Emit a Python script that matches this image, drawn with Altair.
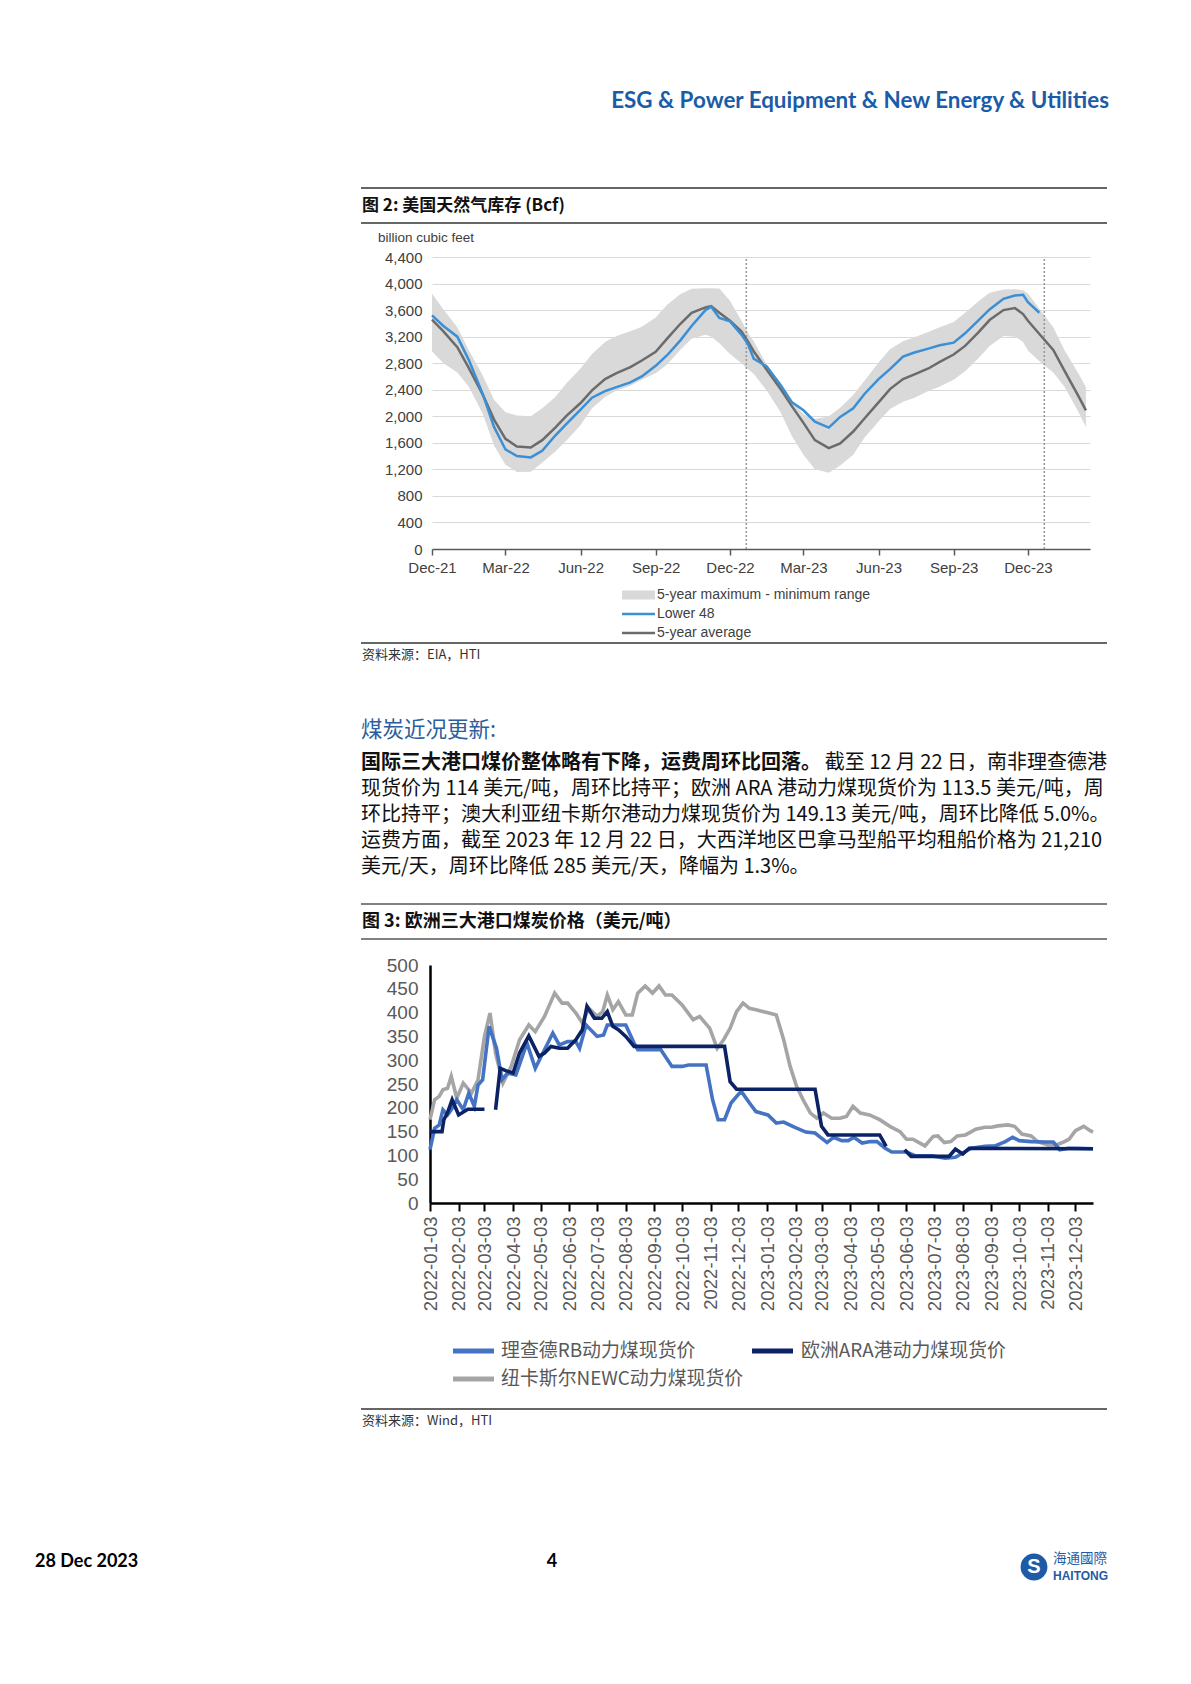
import altair as alt
import pandas as pd

# ---------------- page geometry ----------------
W, H = 1175, 1668
M = 8


def P(v):
    return v - M


DUMMY = pd.DataFrame({"k": [0]})

# ---------------- chart 2: US natural gas storage ----------------
GAS_DATES = [
    "2021-12-01", "2021-12-15",
    "2022-01-01", "2022-01-15", "2022-02-01", "2022-02-15", "2022-03-01", "2022-03-15",
    "2022-04-01", "2022-04-15", "2022-05-01", "2022-05-15", "2022-06-01", "2022-06-15",
    "2022-07-01", "2022-07-15", "2022-08-01", "2022-08-15", "2022-09-01", "2022-09-15",
    "2022-10-01", "2022-10-15", "2022-11-01", "2022-11-08", "2022-11-18", "2022-12-01",
    "2022-12-15", "2022-12-23", "2022-12-30",
    "2023-01-15", "2023-02-01", "2023-02-15", "2023-03-01", "2023-03-15", "2023-04-01",
    "2023-04-15", "2023-05-01", "2023-05-15", "2023-06-01", "2023-06-15", "2023-07-01",
    "2023-07-15", "2023-08-01", "2023-08-15", "2023-09-01", "2023-09-15", "2023-10-01",
    "2023-10-15", "2023-11-01", "2023-11-15", "2023-11-25", "2023-12-01", "2023-12-15",
    "2024-01-01", "2024-01-15", "2024-02-01", "2024-02-10",
]
GAS_MAX = [
    3850, 3610,
    3340, 3000, 2620, 2250, 2060, 2010, 2000, 2120, 2290, 2500, 2720, 2940, 3120, 3210,
    3280, 3350, 3490, 3680, 3840, 3920, 3930, 3930, 3925, 3740, 3440, 3260, 3130,
    2780, 2470, 2220, 2030, 1960, 2000, 2130, 2320, 2540, 2810, 3010, 3130, 3190, 3270,
    3340, 3420, 3560, 3730, 3860, 3910, 3915, 3900, 3850, 3620,
    3340, 2990, 2640, 2440,
]
GAS_MIN = [
    2980, 2800,
    2660, 2450, 2040, 1560, 1270, 1160, 1165, 1300, 1470, 1640, 1870, 2120, 2290, 2390,
    2460, 2550, 2650, 2780, 3000, 3170, 3230, 3200, 3100, 2940, 2800, 2710, 2640,
    2390, 2060, 1700, 1420, 1200, 1150, 1260, 1420, 1680, 1920, 2110, 2220, 2280, 2380,
    2450, 2550, 2680, 2870, 3060, 3210, 3200, 3120, 2990, 2830,
    2660, 2440, 2060, 1840,
]
GAS_AVG5 = [
    3456, 3280,
    3040, 2730, 2330, 1950, 1660, 1545, 1530, 1640, 1830, 2010, 2200, 2390, 2560, 2650,
    2740, 2840, 2970, 3170, 3390, 3560, 3640, 3660, 3560, 3440, 3280, 3130, 2980,
    2700, 2410, 2150, 1900, 1640, 1520, 1590, 1770, 1970, 2210, 2410, 2560, 2630, 2720,
    2820, 2930, 3060, 3260, 3450, 3600, 3630, 3540, 3440, 3240,
    3000, 2680, 2300, 2090,
]
GAS_LOWER48 = [
    3520, 3360,
    3200, 2850, 2340, 1840, 1500, 1400, 1380, 1480, 1710, 1890, 2100, 2280, 2380, 2440,
    2510, 2600, 2760, 2920, 3140, 3360, 3600, 3650, 3480, 3430, 3230, 3090, 2870,
    2750, 2470, 2210, 2090, 1920, 1830, 1990, 2120, 2340, 2560, 2710, 2900, 2960, 3020,
    3070, 3110, 3250, 3440, 3610, 3770, 3820, 3830, 3720, 3560,
    None, None, None, None,
]
GAS_WEEK_MARKERS = ["2022-12-21", "2023-12-21"]
GAS_YTICKS = [0, 400, 800, 1200, 1600, 2000, 2400, 2800, 3200, 3600, 4000, 4400]
GAS_XTICKS = [(2021, 12), (2022, 3), (2022, 6), (2022, 9), (2022, 12),
              (2023, 3), (2023, 6), (2023, 9), (2023, 12)]
GAS_LEGEND = ["5-year maximum - minimum range", "Lower 48", "5-year average"]

# ---------------- chart 3: coal prices ----------------
RB_NAME = "理查德RB动力煤现货价"
ARA_NAME = "欧洲ARA港动力煤现货价"
NEWC_NAME = "纽卡斯尔NEWC动力煤现货价"
COAL_SERIES = [RB_NAME, ARA_NAME, NEWC_NAME]
COAL_COLORS = ["#4472C4", "#0B2265", "#A5A5A5"]

NEWC_DATES = [
    "2022-01-03", "2022-01-08", "2022-01-13", "2022-01-17", "2022-01-22", "2022-01-26",
    "2022-02-01", "2022-02-08", "2022-02-17", "2022-02-24", "2022-03-03", "2022-03-09",
    "2022-03-15", "2022-03-23", "2022-04-01", "2022-04-10", "2022-04-20", "2022-04-27",
    "2022-05-07", "2022-05-18", "2022-05-26", "2022-06-01", "2022-06-10", "2022-06-17",
    "2022-06-24", "2022-07-03", "2022-07-09", "2022-07-14", "2022-07-20", "2022-07-26",
    "2022-08-03", "2022-08-10", "2022-08-16", "2022-08-24", "2022-09-01", "2022-09-08",
    "2022-09-15", "2022-09-22", "2022-10-03", "2022-10-15", "2022-10-22", "2022-11-02",
    "2022-11-10", "2022-11-17", "2022-11-24", "2022-12-01", "2022-12-08", "2022-12-15",
    "2022-12-22", "2023-01-03", "2023-01-13", "2023-01-21", "2023-01-28", "2023-02-04",
    "2023-02-11", "2023-02-19", "2023-02-26", "2023-03-05", "2023-03-14", "2023-03-23",
    "2023-03-30", "2023-04-06", "2023-04-14", "2023-04-24", "2023-05-05", "2023-05-16",
    "2023-05-27", "2023-06-03", "2023-06-10", "2023-06-23", "2023-07-02", "2023-07-07",
    "2023-07-14", "2023-07-21", "2023-07-28", "2023-08-06", "2023-08-17", "2023-08-27",
    "2023-09-03", "2023-09-10", "2023-09-21", "2023-09-28", "2023-10-06", "2023-10-16",
    "2023-10-23", "2023-11-03", "2023-11-12", "2023-11-19", "2023-11-26", "2023-12-03",
    "2023-12-12", "2023-12-19", "2023-12-22",
]
NEWC_PRICE = [
    175, 217, 224, 238, 241, 266,
    220, 252, 231, 259, 350, 399,
    315, 252, 287, 343, 374, 360,
    392, 441, 420, 420, 399, 378,
    409, 392, 402, 437, 406, 423,
    395, 395, 441, 456, 441, 456,
    437, 437, 416, 385, 392, 367,
    325, 343, 367, 402, 420, 409,
    406, 400, 395, 343, 287, 245,
    217, 189, 178, 189, 178, 178,
    182, 203, 189, 185, 175, 161,
    150, 134, 134, 120, 140, 141,
    127, 129, 141, 143, 155, 159,
    159, 162, 164, 161, 145, 141,
    129, 122, 122, 127, 134, 152,
    161, 152, 149,
]

RB_DATES = [
    "2022-01-03", "2022-01-08", "2022-01-13", "2022-01-17", "2022-01-22", "2022-01-26",
    "2022-02-01", "2022-02-08", "2022-02-14", "2022-02-20", "2022-02-24", "2022-03-01",
    "2022-03-08", "2022-03-16", "2022-03-22", "2022-03-28", "2022-04-06", "2022-04-18",
    "2022-04-27", "2022-05-07", "2022-05-16", "2022-05-23", "2022-06-01", "2022-06-10",
    "2022-06-14", "2022-06-21", "2022-07-03", "2022-07-10", "2022-07-14", "2022-07-21",
    "2022-08-03", "2022-08-12", "2022-08-16", "2022-09-01", "2022-09-10", "2022-09-22",
    "2022-10-03", "2022-10-10", "2022-10-29", "2022-11-05", "2022-11-11", "2022-11-18",
    "2022-11-25", "2022-12-06", "2022-12-15", "2022-12-22", "2023-01-04", "2023-01-13",
    "2023-01-21", "2023-02-01", "2023-02-14", "2023-02-24", "2023-03-09", "2023-03-16",
    "2023-03-25", "2023-04-01", "2023-04-07", "2023-04-16", "2023-04-25", "2023-05-02",
    "2023-05-11", "2023-05-18", "2023-06-03", "2023-06-13", "2023-07-01", "2023-07-15",
    "2023-07-26", "2023-08-03", "2023-08-12", "2023-08-27", "2023-09-07", "2023-09-18",
    "2023-09-26", "2023-10-03", "2023-10-16", "2023-10-31", "2023-11-09", "2023-11-16",
    "2023-11-25", "2023-12-03", "2023-12-22",
]
RB_PRICE = [
    112, 157, 164, 196, 185, 196,
    217, 196, 231, 203, 248, 259,
    371, 325, 259, 273, 269, 336,
    283, 322, 357, 332, 339, 339,
    325, 374, 350, 353, 374, 374,
    374, 336, 322, 322, 322, 287,
    287, 290, 290, 217, 175, 175,
    210, 235, 210, 192, 185, 168,
    170, 160, 149, 147, 127, 138,
    131, 131, 138, 126, 129, 129,
    115, 107, 107, 99, 99, 94,
    96, 105, 115, 119, 120, 129,
    138, 131, 129, 128, 128, 112,
    115, 115, 114,
]

# None marks a break in the ARA series
ARA_DATES = [
    "2022-01-03", "2022-01-16", "2022-01-18", "2022-01-22", "2022-01-27", "2022-02-03",
    "2022-02-13", "2022-03-03", None,
    "2022-03-15", "2022-03-20", "2022-03-26", "2022-04-03", "2022-04-10", "2022-04-20",
    "2022-05-01", "2022-05-07", "2022-05-14", "2022-05-23", "2022-06-01", "2022-06-10",
    "2022-06-17", "2022-06-22", "2022-06-30", "2022-07-08", "2022-07-14", "2022-07-20",
    "2022-07-26", "2022-08-03", "2022-08-12", "2022-11-18", "2022-11-24", "2022-12-01",
    "2023-02-24", "2023-03-03", "2023-03-10", "2023-05-05", "2023-05-12", None,
    "2023-06-01", "2023-06-08", "2023-07-19", "2023-07-26", "2023-08-03", "2023-08-10",
    "2023-12-22",
]
ARA_PRICE = [
    150, 150, 175, 190, 217, 185,
    197, 197, None,
    196, 283, 278, 273, 315, 351,
    308, 315, 329, 325, 325, 343,
    364, 413, 388, 388, 402, 371,
    364, 350, 329, 329, 255, 239,
    239, 161, 143, 143, 119, None,
    112, 98, 98, 113, 103, 115,
    114,
]
COAL_YTICKS = list(range(0, 501, 50))

# ---------------- helpers ----------------
CJK = "Noto Sans CJK SC"
ARIAL = "Liberation Sans"
L, R = 361, 1107  # page text column


def DT(y, m, d):
    return alt.DateTime(year=y, month=m, date=d)


def ts(s):
    return s + "T00:00:00"


def text(s, x, y, size, color="#111111", font=CJK, weight="normal", align="left"):
    return alt.Chart(DUMMY).mark_text(
        text=s, font=font, fontSize=size, fontWeight=weight, color=color,
        align=align, baseline="middle",
    ).encode(x=alt.value(P(x)), y=alt.value(P(y)))


def hrule(x1, x2, y, color, width):
    return alt.Chart(DUMMY).mark_rule(color=color, strokeWidth=width).encode(
        x=alt.value(P(x1)), x2=alt.value(P(x2)), y=alt.value(P(y))
    )


# ---------------- chart 2 build ----------------
gas = pd.DataFrame({
    "date": [ts(s) for s in GAS_DATES],
    "hi": GAS_MAX, "lo": GAS_MIN, "avg": GAS_AVG5, "l48": GAS_LOWER48,
})
gas_marks = pd.DataFrame({"date": [ts(s) for s in GAS_WEEK_MARKERS]})

x2s = alt.Scale(domain=[DT(2021, 12, 1), DT(2024, 2, 15)], range=[P(432), P(1090)])
y2s = alt.Scale(domain=[0, 4400], range=[P(549), P(257)], nice=False, zero=False)
x2a = alt.Axis(
    orient="bottom", offset=P(549) - H, values=[DT(y, m, 1) for y, m in GAS_XTICKS],
    format="%b-%y", labelFont=ARIAL, labelFontSize=15, labelColor="#404040",
    domainColor="#595959", domainWidth=1.5, tickColor="#595959", tickWidth=1.5,
    tickSize=6, labelPadding=5, labelFlush=False, labelOverlap=False, grid=False, title=None,
)
y2a = alt.Axis(
    orient="left", offset=-P(432), values=GAS_YTICKS, format=",d",
    labelFont=ARIAL, labelFontSize=15, labelColor="#404040", domain=False, ticks=False,
    labelPadding=10, grid=True, gridColor="#d9d9d9", gridWidth=1, title=None,
)

band = alt.Chart(gas).mark_area(color="#d9d9d9").encode(
    x=alt.X("date:T", scale=x2s, axis=x2a),
    y=alt.Y("hi:Q", scale=y2s, axis=y2a),
    y2="lo:Q",
)
weeks = alt.Chart(gas_marks).mark_rule(color="#9a9a9a", strokeDash=[2, 2], strokeWidth=1.6).encode(
    x=alt.X("date:T", scale=x2s, axis=x2a),
    y=alt.YDatum(0, scale=y2s, axis=y2a),
    y2=alt.Y2Datum(4400),
)
avg_line = alt.Chart(gas).mark_line(color="#6b6b6b", strokeWidth=2.5).encode(
    x=alt.X("date:T", scale=x2s, axis=x2a),
    y=alt.Y("avg:Q", scale=y2s, axis=y2a),
)
l48_line = alt.Chart(gas).transform_filter("isValid(datum.l48)").mark_line(
    color="#3a8fd5", strokeWidth=2.5
).encode(
    x=alt.X("date:T", scale=x2s, axis=x2a),
    y=alt.Y("l48:Q", scale=y2s, axis=y2a),
)
chart2 = alt.layer(band, weeks, avg_line, l48_line)

# ---------------- chart 3 build ----------------
rows = []
for name, dates, vals in [
    (NEWC_NAME, NEWC_DATES, NEWC_PRICE),
    (RB_NAME, RB_DATES, RB_PRICE),
    (ARA_NAME, ARA_DATES, ARA_PRICE),
]:
    seg = 0
    for dt, v in zip(dates, vals):
        if v is None or dt is None:
            seg += 1
            continue
        rows.append({"date": ts(dt), "price": v, "series": name, "seg": f"{name}-{seg}"})
coal = pd.DataFrame(rows)

x3s = alt.Scale(domain=[DT(2022, 1, 3), DT(2023, 12, 22)], range=[P(430), P(1093)])
y3s = alt.Scale(domain=[0, 500], range=[P(1203), P(965)], nice=False, zero=False)
coal_ticks = [DT(2022 + (i // 12), i % 12 + 1, 3) for i in range(24)]
x3a = alt.Axis(
    orient="bottom", offset=P(1203) - H, values=coal_ticks, format="%Y-%m-%d",
    labelAngle=270, labelFont=ARIAL, labelFontSize=18.5, labelColor="#595959",
    domainColor="#000000", domainWidth=2.5, tickColor="#000000", tickWidth=2, tickSize=8,
    labelPadding=5, labelFlush=False, labelOverlap=False, grid=False, title=None,
)
y3a = alt.Axis(
    orient="left", offset=-P(430), values=COAL_YTICKS, labelFont=ARIAL, labelFontSize=19,
    labelColor="#595959", domainColor="#000000", domainWidth=2.5, ticks=False,
    labelPadding=12, grid=False, title=None,
)
coal_colors = alt.Scale(domain=COAL_SERIES, range=COAL_COLORS)
chart3 = alt.Chart(coal).mark_line(strokeWidth=3.6).encode(
    x=alt.X("date:T", scale=x3s, axis=x3a),
    y=alt.Y("price:Q", scale=y3s, axis=y3a),
    color=alt.Color("series:N", scale=coal_colors, legend=None),
    detail="seg:N",
)

# legend slots for figure 3: (symbol x1, symbol x2, text x, y)
coal_leg_pos = [(453, 494, 501, 1351), (752, 793, 801, 1351), (453, 494, 501, 1379)]
coal_legend = []
for name, col, (sx1, sx2, tx, ty) in zip(COAL_SERIES, COAL_COLORS, coal_leg_pos):
    coal_legend.append(hrule(sx1, sx2, ty, col, 5))
    coal_legend.append(text(name, tx, ty, 18.9, color="#595959"))

# legend for figure 2
gas_leg_style = [("#d9d9d9", 9), ("#3a8fd5", 2.5), ("#6b6b6b", 2.5)]
gas_legend = []
for lab, (col, wdt), ty in zip(GAS_LEGEND, gas_leg_style, [595, 614, 633]):
    gas_legend.append(hrule(622, 655, ty, col, wdt))
    gas_legend.append(text(lab, 657, ty, 14, color="#404040", font=ARIAL))

# ---------------- page furniture ----------------
BLUE_HEAD = "#1a5ca8"
BODY = 20
layers = [
    text("ESG & Power Equipment & New Energy & Utilities", 1109, 101, 22.4,
         color=BLUE_HEAD, font="Lato", weight="bold", align="right"),
    # figure 2 frame
    hrule(L, R, 188, "#333333", 1.3),
    text("图 2: 美国天然气库存 (Bcf)", 362, 206, 17, weight="bold"),
    hrule(L, R, 223, "#333333", 1.3),
    text("billion cubic feet", 378, 238, 13.5, color="#404040", font=ARIAL),
    chart2,
    *gas_legend,
    hrule(L, R, 643, "#333333", 1.3),
    text("资料来源：EIA，HTI", 362, 655, 13, color="#333333"),
    # section text
    text("煤炭近况更新:", L, 731, 21.5, color="#2c5d9c"),
    text("国际三大港口煤价整体略有下降，运费周环比回落。", L, 763, BODY, weight="bold"),
    text("截至 12 月 22 日，南非理查德港", R, 763, BODY, align="right"),
    text("现货价为 114 美元/吨，周环比持平；欧洲 ARA 港动力煤现货价为 113.5 美元/吨，周", L, 789, BODY),
    text("环比持平；澳大利亚纽卡斯尔港动力煤现货价为 149.13 美元/吨，周环比降低 5.0%。", L, 815, BODY),
    text("运费方面，截至 2023 年 12 月 22 日，大西洋地区巴拿马型船平均租船价格为 21,210", L, 841, BODY),
    text("美元/天，周环比降低 285 美元/天，降幅为 1.3%。", L, 867, BODY),
    # figure 3 frame
    hrule(L, R, 904, "#808080", 2),
    text("图 3: 欧洲三大港口煤炭价格（美元/吨）", 362, 922, 18, weight="bold"),
    hrule(L, R, 939, "#808080", 2),
    chart3,
    *coal_legend,
    hrule(L, R, 1409, "#333333", 1.3),
    text("资料来源：Wind，HTI", 362, 1421, 13, color="#333333"),
    # footer
    text("28 Dec 2023", 35, 1562, 18, color="#000000", font="Lato", weight="bold"),
    text("4", 552, 1562, 18, color="#000000", font="Lato", weight="bold", align="center"),
    alt.Chart(DUMMY).mark_point(shape="circle", filled=True, size=720, color="#1f5aa6", opacity=1).encode(
        x=alt.value(P(1034)), y=alt.value(P(1567))
    ),
    text("S", 1034, 1567, 20, color="#ffffff", font=ARIAL, weight="bold", align="center"),
    text("海通國際", 1053, 1559, 13.5, color="#1f5aa6", align="left"),
    text("HAITONG", 1053, 1576, 12, color="#1f5aa6", font=ARIAL, weight="bold", align="left"),
]

chart = alt.layer(*layers).resolve_scale(
    x="independent", y="independent", color="independent"
).resolve_axis(
    x="independent", y="independent"
).properties(
    width=W, height=H, padding=0, background="white",
    autosize=alt.AutoSizeParams(type="none"),
).configure_view(stroke=None)

chart.save("out.html", embed_options={"renderer": "svg", "actions": False})
